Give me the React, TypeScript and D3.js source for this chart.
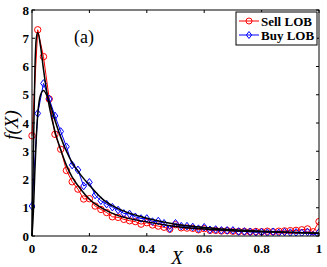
import React, { useEffect, useRef } from 'react';
import * as d3 from 'd3';

// sampled every 0.02 on X
const xValues = d3.range(0, 51).map(i => +(i * 0.02).toFixed(2));

const sellLOB = [
    3.55, 7.3, 6.35, 4.85, 3.6, 3.07, 2.32, 1.92, 1.66, 1.31,
    1.32, 1.06, 0.94, 0.83, 0.68, 0.66, 0.59, 0.54, 0.51, 0.42,
    0.47, 0.39, 0.35, 0.31, 0.24, 0.4, 0.29, 0.28, 0.27, 0.22,
    0.26, 0.2, 0.2, 0.18, 0.19, 0.17, 0.16, 0.16, 0.15, 0.16,
    0.15, 0.17, 0.15, 0.17, 0.18, 0.19, 0.2, 0.22, 0.25, 0.15,
    0.51
];

const buyLOB = [
    1.06, 4.34, 5.4, 4.85, 4.25, 3.7, 3.16, 2.51, 2.34, 1.77,
    1.9, 1.45, 1.25, 1.13, 1.02, 0.92, 0.8, 0.78, 0.68, 0.62,
    0.62, 0.51, 0.53, 0.45, 0.26, 0.45, 0.35, 0.35, 0.32, 0.26,
    0.31, 0.22, 0.23, 0.2, 0.2, 0.2, 0.16, 0.16, 0.15, 0.13,
    0.14, 0.12, 0.15, 0.11, 0.14, 0.12, 0.13, 0.11, 0.14, 0.03,
    0.13
];

// fitted curves
const fitX = [0, 0.005, 0.01, 0.015, 0.02, 0.03, 0.04, 0.06, 0.08, 0.1, 0.12, 0.14, 0.167, 0.2, 0.25, 0.3, 0.4, 0.5, 0.6, 0.7, 0.8, 0.9, 1.0];
const sellFit = [0, 3.0, 5.8, 7.0, 7.2, 6.7, 5.9, 4.6, 3.7, 3.05, 2.5, 2.08, 1.69, 1.3, 0.95, 0.72, 0.5, 0.34, 0.25, 0.19, 0.15, 0.12, 0.1];
const buyFit = [0, 0.9, 2.3, 3.5, 4.3, 5.0, 5.15, 4.75, 4.1, 3.5, 3.0, 2.6, 2.2, 1.8, 1.27, 0.97, 0.63, 0.42, 0.3, 0.22, 0.17, 0.13, 0.1];

const xTicks = [0, 0.2, 0.4, 0.6, 0.8, 1];
const yTicks = [0, 1, 2, 3, 4, 5, 6, 7, 8];

const serif = 'Liberation Serif, DejaVu Serif, Times New Roman, serif';

const App: React.FC = () => {
    const svgRef = useRef<SVGSVGElement | null>(null);

    useEffect(() => {
        const width = 327;
        const height = 267;
        const margin = { top: 10, right: 8, bottom: 31, left: 32 };
        const innerW = width - margin.left - margin.right;
        const innerH = height - margin.top - margin.bottom;

        const root = d3.select(svgRef.current);
        root.selectAll('*').remove();
        root.attr('width', width).attr('height', height);

        const svg = root.append('g')
            .attr('transform', `translate(${margin.left},${margin.top})`);

        const x = d3.scaleLinear().domain([0, 1]).range([0, innerW]);
        const y = d3.scaleLinear().domain([0, 8]).range([innerH, 0]);

        svg.append('clipPath').attr('id', 'plotclip')
            .append('rect').attr('x', -5).attr('width', innerW + 5).attr('height', innerH);

        const plot = svg.append('g').attr('clip-path', 'url(#plotclip)');

        const dataLine = d3.line<number>()
            .x((_, i) => x(xValues[i]))
            .y(d => y(d));

        // Sell LOB
        plot.append('path')
            .attr('d', dataLine(sellLOB) || '')
            .attr('fill', 'none')
            .attr('stroke', '#ff0000')
            .attr('stroke-width', 1);
        plot.selectAll('.sell')
            .data(sellLOB)
            .enter()
            .append('circle')
            .attr('class', 'sell')
            .attr('cx', (_, i) => x(xValues[i]))
            .attr('cy', d => y(d))
            .attr('r', 3.2)
            .attr('fill', 'none')
            .attr('stroke', '#ff0000')
            .attr('stroke-width', 1);

        // Buy LOB
        plot.append('path')
            .attr('d', dataLine(buyLOB) || '')
            .attr('fill', 'none')
            .attr('stroke', '#0000ff')
            .attr('stroke-width', 1);
        const diamond = (cx: number, cy: number, s: number) =>
            `M${cx},${cy - s}L${cx + s * 0.75},${cy}L${cx},${cy + s}L${cx - s * 0.75},${cy}Z`;
        plot.selectAll('.buy')
            .data(buyLOB)
            .enter()
            .append('path')
            .attr('class', 'buy')
            .attr('d', (d, i) => diamond(x(xValues[i]), y(d), 3.8))
            .attr('fill', 'none')
            .attr('stroke', '#0000ff')
            .attr('stroke-width', 1);

        // fits
        const fitLine = d3.line<number>()
            .x((_, i) => x(fitX[i]))
            .y(d => y(d))
            .curve(d3.curveMonotoneX);
        [sellFit, buyFit].forEach(f => {
            plot.append('path')
                .attr('d', fitLine(f) || '')
                .attr('fill', 'none')
                .attr('stroke', '#000')
                .attr('stroke-width', 1.5);
        });

        // box
        svg.append('rect')
            .attr('width', innerW)
            .attr('height', innerH)
            .attr('fill', 'none')
            .attr('stroke', '#000')
            .attr('stroke-width', 1);

        const tickLen = 3;
        xTicks.forEach(t => {
            svg.append('line').attr('x1', x(t)).attr('x2', x(t)).attr('y1', innerH).attr('y2', innerH - tickLen).attr('stroke', '#000');
            svg.append('line').attr('x1', x(t)).attr('x2', x(t)).attr('y1', 0).attr('y2', tickLen).attr('stroke', '#000');
            svg.append('text')
                .attr('x', x(t))
                .attr('y', innerH + 17)
                .attr('text-anchor', 'middle')
                .attr('font-family', serif)
                .attr('font-weight', 'bold')
                .attr('font-size', 13)
                .text(String(t));
        });
        yTicks.forEach(t => {
            svg.append('line').attr('x1', 0).attr('x2', tickLen).attr('y1', y(t)).attr('y2', y(t)).attr('stroke', '#000');
            svg.append('line').attr('x1', innerW).attr('x2', innerW - tickLen).attr('y1', y(t)).attr('y2', y(t)).attr('stroke', '#000');
            svg.append('text')
                .attr('x', -3)
                .attr('y', y(t) + 4.5)
                .attr('text-anchor', 'end')
                .attr('font-family', serif)
                .attr('font-weight', 'bold')
                .attr('font-size', 13)
                .text(String(t));
        });

        // axis titles
        root.append('text')
            .attr('x', 177)
            .attr('y', 264)
            .attr('text-anchor', 'middle')
            .attr('font-family', serif)
            .attr('font-style', 'italic')
            .attr('font-size', 19)
            .text('X');
        root.append('text')
            .attr('transform', 'translate(18,125) rotate(-90)')
            .attr('text-anchor', 'middle')
            .attr('font-family', serif)
            .attr('font-style', 'italic')
            .attr('font-size', 19)
            .text('f(X)');

        // panel label
        root.append('text')
            .attr('x', 74)
            .attr('y', 43)
            .attr('font-family', serif)
            .attr('font-size', 18)
            .text('(a)');

        // legend
        const legend = root.append('g').attr('transform', 'translate(236,12)');
        legend.append('rect')
            .attr('width', 81)
            .attr('height', 33)
            .attr('fill', '#fff')
            .attr('stroke', '#000')
            .attr('stroke-width', 1);
        const items = [
            { label: 'Sell LOB', color: '#ff0000', mark: 'circle' },
            { label: 'Buy LOB', color: '#0000ff', mark: 'diamond' }
        ];
        items.forEach((it, i) => {
            const cy = 9 + i * 14;
            legend.append('line')
                .attr('x1', 3).attr('x2', 23)
                .attr('y1', cy).attr('y2', cy)
                .attr('stroke', it.color);
            if (it.mark === 'circle') {
                legend.append('circle').attr('cx', 13).attr('cy', cy).attr('r', 3)
                    .attr('fill', 'none').attr('stroke', it.color);
            } else {
                legend.append('path').attr('d', diamond(13, cy, 3.5))
                    .attr('fill', 'none').attr('stroke', it.color);
            }
            legend.append('text')
                .attr('x', 25)
                .attr('y', cy + 4.5)
                .attr('font-family', serif)
                .attr('font-weight', 'bold')
                .attr('font-size', 13)
                .text(it.label);
        });
    }, []);

    return (
        <svg ref={svgRef} style={{ position: 'absolute', left: 0, top: 0, background: '#fff' }}></svg>
    );
};

export default App;
